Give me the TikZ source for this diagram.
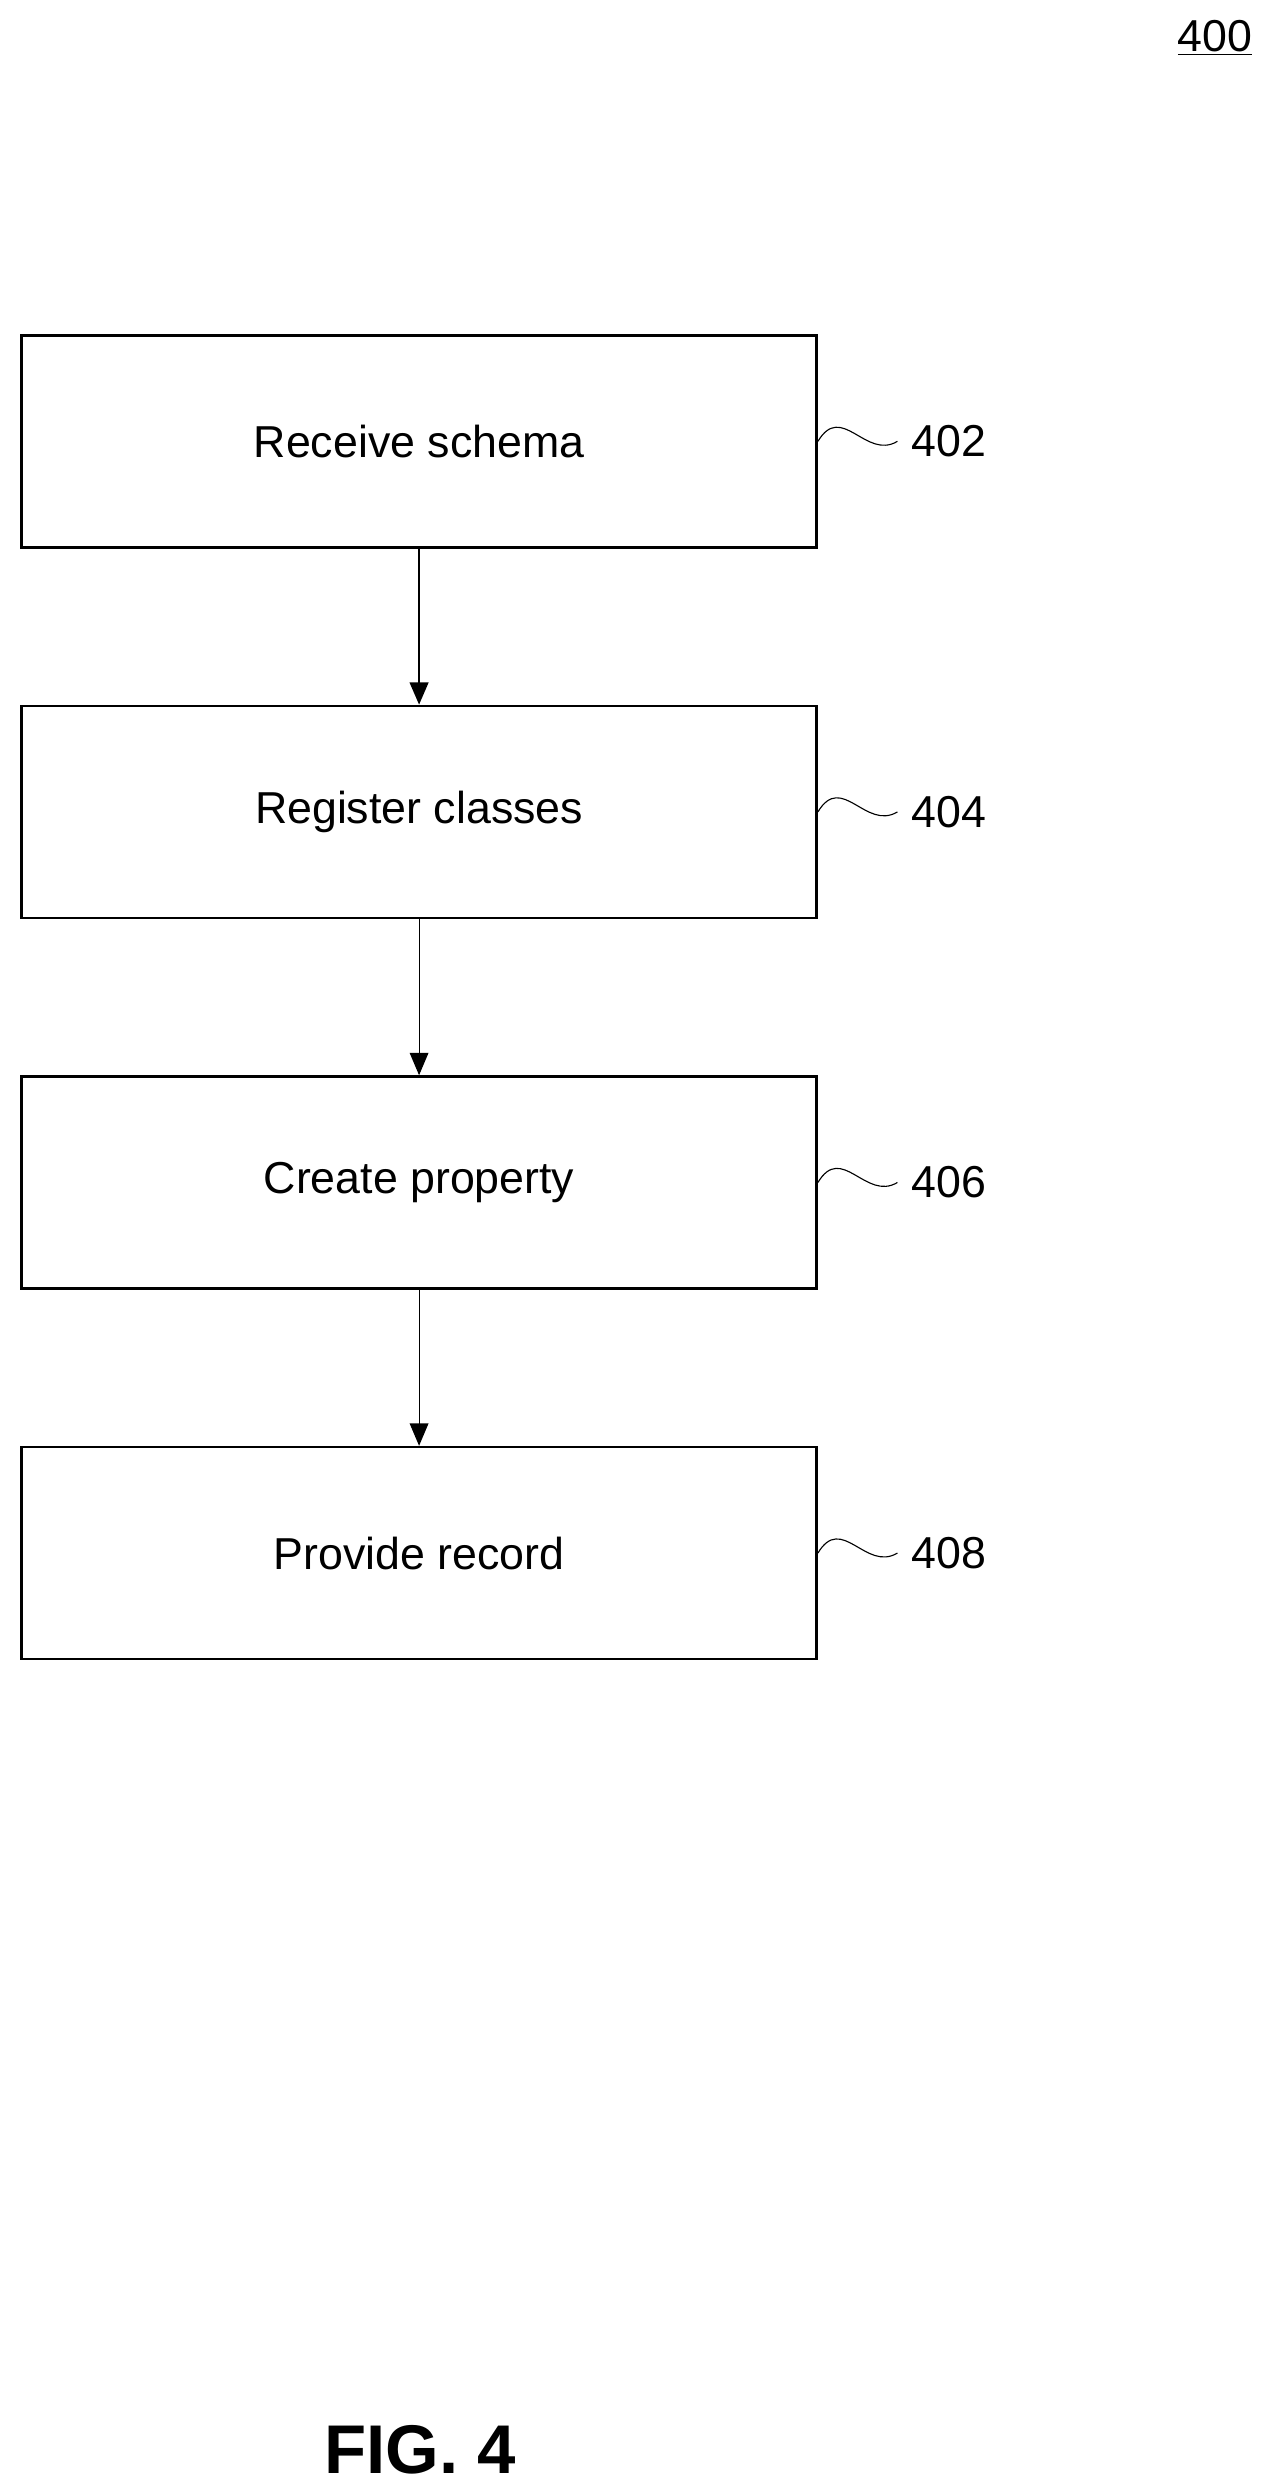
\documentclass[tikz,border=0pt]{standalone}
\usepackage{fontspec}
\setmainfont{Liberation Sans}
\usetikzlibrary{arrows.meta,positioning}
\tikzset{
  stepbox/.style={draw,line width=1.3pt,minimum width=15cm,minimum height=4cm,font=\fontsize{24}{28}\selectfont},
  ref/.style={font=\fontsize{24}{28}\selectfont,anchor=west},
  flow/.style={-{Triangle[length=12pt,width=10pt]}}
}
\begin{document}
\begin{tikzpicture}[x=0.03cm,y=-0.03cm]
    \useasboundingbox (0,0) rectangle (800,1565);
    \node (num) at (764,24) {\fontsize{24}{28}\selectfont\underline{400}};
	\node[stepbox] (recv) at (263.5,277.5) {Receive schema};
	\node[stepbox] (reg) at (263.5,510.5) {Register classes};
	\node[stepbox] (crt) at (263.5,743.5) {Create property};
	\node[stepbox] (prov) at (263.5,976.5) {Provide record};
	\draw[flow,line width=1.3pt] (recv) -- (reg);
	\draw[flow,semithick] (reg) -- (crt);
	\draw[flow,semithick] (crt) -- (prov);
	\foreach \b/\n in {recv/402,reg/404,crt/406,prov/408} % squiggle and label
	{
	  \draw[semithick] (\b.east) .. controls ++(15,-25) and ++(-20,12) .. ++(50,0) coordinate (c\n);
	  \node[ref] at ([xshift=4]c\n) {\n};
	}
	\node (fig) at (264,1540) {\fontsize{37}{40}\selectfont\bfseries FIG. 4};
\end{tikzpicture}
\end{document}
